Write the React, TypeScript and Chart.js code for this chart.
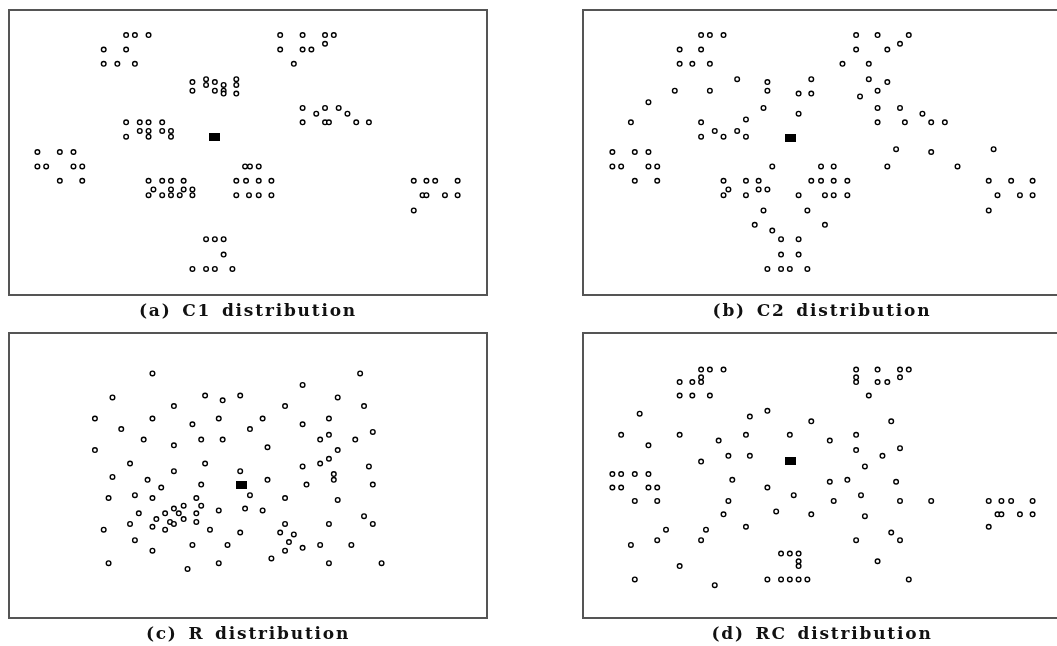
import React, { useEffect, useRef } from "react";
import { Chart, registerables } from "chart.js";

Chart.register(...registerables);

type Pt = [number, number];

// Coordinates are in each panel's own units: x rightwards, y downwards (0..480, 0..287)
const c1Points: Pt[] = [
  [115, 21], [124, 21], [138, 21], [92, 36], [115, 36], [92, 51], [106, 51], [124, 51],
  [183, 70], [197, 67], [197, 73], [206, 70], [215, 73], [215, 79], [215, 82], [228, 67], [228, 73], [183, 79], [206, 79], [228, 82],
  [115, 112], [129, 112], [138, 112], [152, 112], [129, 121], [138, 121], [152, 121], [161, 121], [115, 127], [138, 127], [161, 127],
  [24, 143], [47, 143], [61, 143], [24, 158], [33, 158], [61, 158], [70, 158], [47, 173], [70, 173],
  [138, 173], [152, 173], [161, 173], [174, 173], [143, 182], [161, 182], [174, 182], [183, 182], [138, 188], [152, 188], [161, 188], [170, 188], [183, 188],
  [237, 158], [242, 158], [251, 158], [228, 173], [238, 173], [251, 173], [264, 173], [228, 188], [241, 188], [251, 188], [264, 188],
  [273, 21], [296, 21], [319, 21], [328, 21], [319, 30], [273, 36], [296, 36], [305, 36], [287, 51],
  [296, 97], [319, 97], [333, 97], [310, 103], [342, 103], [296, 112], [319, 112], [323, 112], [351, 112], [364, 112],
  [410, 173], [423, 173], [432, 173], [455, 173], [419, 188], [423, 188], [442, 188], [455, 188], [410, 204],
  [197, 234], [206, 234], [215, 234], [215, 250], [183, 265], [197, 265], [206, 265], [224, 265],
];
const c1Center: Pt = [205.5, 127.5];

const c2Points: Pt[] = [
  [116, 21], [125, 21], [139, 21], [94, 36], [116, 36], [94, 51], [107, 51], [125, 51],
  [153, 67], [184, 70], [229, 67], [89, 79], [125, 79], [184, 79], [216, 82], [229, 82],
  [62, 91], [180, 97], [216, 103], [44, 112], [116, 112], [162, 109], [130, 121], [153, 121],
  [116, 127], [139, 127], [162, 127],
  [25, 143], [48, 143], [62, 143], [25, 158], [34, 158], [62, 158], [71, 158], [48, 173], [71, 173],
  [189, 158], [139, 173], [162, 173], [175, 173], [144, 182], [175, 182], [184, 182], [139, 188], [162, 188],
  [229, 173], [239, 173], [252, 173], [266, 173], [216, 188], [243, 188], [252, 188], [266, 188], [239, 158], [252, 158],
  [180, 204], [225, 204], [171, 219], [189, 225], [198, 234], [216, 234], [198, 250], [216, 250],
  [184, 265], [198, 265], [207, 265], [225, 265],
  [275, 21], [297, 21], [329, 21], [320, 30], [275, 36], [307, 36], [261, 51], [288, 51],
  [288, 67], [307, 70], [297, 79], [279, 85], [297, 97], [320, 97], [343, 103],
  [297, 112], [325, 112], [352, 112], [366, 112], [316, 140], [352, 143], [416, 140],
  [307, 158], [379, 158], [243, 219],
  [411, 173], [434, 173], [456, 173], [420, 188], [443, 188], [456, 188], [411, 204],
];
const c2Center: Pt = [207.5, 128];

const rPoints: Pt[] = [
  [142, 37], [101, 62], [196, 60], [214, 65], [232, 60], [164, 71], [83, 84], [142, 84], [210, 84],
  [183, 90], [110, 95], [242, 95], [133, 106], [192, 106], [214, 106], [164, 112], [83, 117],
  [119, 131], [196, 131], [164, 139], [232, 139], [101, 145], [137, 148], [151, 156], [192, 153],
  [242, 164], [97, 167], [124, 164], [142, 167], [187, 167], [174, 175], [192, 175], [164, 178],
  [237, 178], [128, 183], [155, 183], [169, 183], [187, 183], [210, 180], [146, 189], [174, 189],
  [160, 192], [164, 194], [187, 192], [119, 194], [142, 197], [155, 200], [92, 200], [201, 200],
  [232, 203], [124, 211], [183, 216], [219, 216], [142, 222], [97, 235], [210, 235], [178, 241],
  [355, 37], [296, 49], [332, 62], [278, 71], [359, 71], [255, 84], [296, 90], [323, 84],
  [323, 101], [368, 98], [314, 106], [350, 106], [260, 114], [332, 117], [296, 134], [314, 131],
  [323, 126], [364, 134], [328, 142], [328, 148], [260, 148], [300, 153], [368, 153], [278, 167],
  [332, 169], [255, 180], [359, 186], [278, 194], [323, 194], [368, 194], [273, 203], [287, 205],
  [282, 213], [278, 222], [296, 219], [314, 216], [346, 216], [264, 230], [323, 235], [377, 235],
];
const rCenter: Pt = [233, 153.5];

const rcPoints: Pt[] = [
  [116, 33], [125, 33], [139, 33], [116, 41], [94, 46], [107, 46], [116, 46], [94, 60], [107, 60], [125, 60],
  [53, 79], [166, 82], [184, 76], [229, 87], [34, 101], [94, 101], [162, 101], [207, 101], [134, 107],
  [62, 112], [144, 123], [166, 123], [116, 129],
  [25, 142], [34, 142], [48, 142], [62, 142], [25, 156], [34, 156], [62, 156], [71, 156], [48, 170], [71, 170],
  [148, 148], [184, 156], [211, 164], [144, 170], [139, 184], [193, 181], [229, 184], [162, 197],
  [80, 200], [121, 200], [71, 211], [116, 211], [44, 216], [198, 225], [207, 225], [216, 225],
  [216, 233], [216, 238], [94, 238], [48, 252], [184, 252], [198, 252], [207, 252], [216, 252], [225, 252],
  [130, 258],
  [275, 33], [297, 33], [320, 33], [329, 33], [275, 41], [320, 41], [275, 46], [297, 46], [307, 46],
  [288, 60], [311, 87], [275, 101], [248, 107], [275, 117], [320, 115], [302, 123], [284, 134],
  [248, 150], [266, 148], [316, 150], [280, 164], [252, 170], [320, 170], [352, 170],
  [411, 170], [424, 170], [434, 170], [456, 170], [284, 186], [420, 184], [424, 184], [443, 184], [456, 184],
  [411, 197], [311, 203], [275, 211], [320, 211], [297, 233], [329, 252],
];
const rcCenter: Pt = [207.5, 128.5];

const captions = ["(a) C1 distribution", "(b) C2 distribution", "(c) R distribution", "(d) RC distribution"];

function makeSquare(): HTMLCanvasElement {
  const c = document.createElement("canvas");
  c.width = 11;
  c.height = 8;
  const ctx = c.getContext("2d")!;
  ctx.fillStyle = "#000";
  ctx.fillRect(0, 0, 11, 8);
  return c;
}

function Panel({ points, center, left, top, w, h, caption }: { points: Pt[]; center: Pt; left: number; top: number; w: number; h: number; caption: string }) {
  const ref = useRef<HTMLCanvasElement>(null);
  useEffect(() => {
    const chart = new Chart(ref.current!, {
      type: "scatter",
      data: {
        datasets: [
          {
            data: points.map(([x, y]) => ({ x, y })),
            pointRadius: 2.3,
            pointBorderWidth: 1.4,
            pointBorderColor: "#000",
            pointBackgroundColor: "#fff",
            clip: false as any,
          },
          {
            data: [{ x: center[0], y: center[1] }],
            pointStyle: makeSquare() as any,
            pointRadius: 5,
            clip: false as any,
          },
        ],
      },
      options: {
        animation: false,
        responsive: false,
        maintainAspectRatio: false,
        events: [],
        layout: { padding: 0 },
        plugins: { legend: { display: false }, tooltip: { enabled: false } },
        scales: {
          x: { type: "linear", min: 0, max: w, display: false },
          y: { type: "linear", min: 0, max: h, reverse: true, display: false },
        },
      },
    });
    return () => chart.destroy();
  }, []);
  return (
    <>
      <canvas ref={ref} width={w} height={h} style={{ position: "absolute", left, top, width: w, height: h }} />
      <div style={{ position: "absolute", left, top, width: w, height: h, boxSizing: "border-box", border: "2px solid #555", pointerEvents: "none" }} />
      <div style={{ position: "absolute", left, top: top + h + 4, width: w, textAlign: "center", font: "bold 17px 'DejaVu Serif'", letterSpacing: "1.8px", wordSpacing: "3px", color: "#111" }}>{caption}</div>
    </>
  );
}

export default function App() {
  return (
    <div style={{ position: "fixed", left: 0, top: 0, width: 1057, height: 646, overflow: "hidden", background: "#fff" }}>
      <Panel points={c1Points} center={c1Center} left={8} top={9} w={480} h={287} caption={captions[0]} />
      <Panel points={c2Points} center={c2Center} left={582} top={9} w={480} h={287} caption={captions[1]} />
      <Panel points={rPoints} center={rCenter} left={8} top={332} w={480} h={287} caption={captions[2]} />
      <Panel points={rcPoints} center={rcCenter} left={582} top={332} w={480} h={287} caption={captions[3]} />
    </div>
  );
}
